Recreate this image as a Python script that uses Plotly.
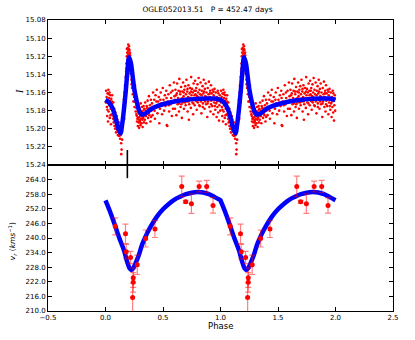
import plotly.graph_objects as go
from plotly.subplots import make_subplots

# folded OGLE light curve, one cycle (phase, I mag)
lc_phase = [
    0.005, 0.010, 0.012, 0.015, 0.018, 0.020, 0.022, 0.025, 0.027, 0.030, 0.032, 0.035, 0.037, 0.040,
    0.042, 0.045, 0.047, 0.050, 0.053, 0.055, 0.058, 0.060,
    0.063, 0.066, 0.068, 0.071, 0.073, 0.076, 0.078, 0.081, 0.083, 0.086, 0.088, 0.091, 0.093, 0.096,
    0.098, 0.101, 0.104, 0.107, 0.110, 0.112, 0.115, 0.118, 0.121, 0.124, 0.127, 0.130, 0.133, 0.136,
    0.140, 0.137, 0.145,
    0.148, 0.152, 0.156, 0.160, 0.163, 0.166, 0.170, 0.173, 0.176, 0.179,
    0.182, 0.185, 0.187, 0.189, 0.191, 0.193, 0.195, 0.196, 0.198, 0.199, 0.201, 0.202, 0.204, 0.205,
    0.207, 0.208, 0.210, 0.212, 0.214, 0.216, 0.218, 0.220, 0.222,
    0.225, 0.228, 0.231, 0.234, 0.237, 0.240, 0.243, 0.246, 0.249, 0.252, 0.256, 0.259, 0.262, 0.266,
    0.269,
    0.272, 0.274, 0.276, 0.279, 0.281, 0.283, 0.286, 0.288, 0.290, 0.292, 0.295, 0.297, 0.299, 0.302,
    0.304, 0.306, 0.309, 0.311, 0.313, 0.316, 0.318, 0.321, 0.323, 0.326, 0.328, 0.331, 0.334, 0.336,
    0.339, 0.342, 0.345, 0.348, 0.351, 0.355, 0.358, 0.362, 0.366, 0.370, 0.374, 0.378, 0.382, 0.386,
    0.391, 0.395, 0.399,
    0.404, 0.409, 0.414, 0.419, 0.424, 0.430, 0.435, 0.440, 0.446, 0.452, 0.457, 0.463, 0.468, 0.474,
    0.480, 0.486, 0.492, 0.498, 0.504, 0.510, 0.516, 0.522, 0.528, 0.533, 0.537, 0.541, 0.547, 0.553,
    0.559, 0.565, 0.571, 0.577, 0.583, 0.589, 0.595,
    0.600, 0.604, 0.608, 0.612, 0.616, 0.620, 0.623, 0.627, 0.631, 0.635, 0.639, 0.642, 0.646, 0.650,
    0.653, 0.657, 0.661, 0.664, 0.668, 0.672, 0.675, 0.679, 0.682, 0.686, 0.689, 0.693, 0.697, 0.700,
    0.704, 0.707, 0.711, 0.714, 0.718, 0.721, 0.725, 0.728, 0.731, 0.735, 0.738, 0.742, 0.745, 0.748,
    0.752, 0.755, 0.759, 0.762, 0.766, 0.769, 0.772, 0.776, 0.779, 0.783, 0.786, 0.789, 0.793, 0.796,
    0.800, 0.803, 0.806, 0.810, 0.813, 0.817, 0.820, 0.823, 0.827, 0.830, 0.834, 0.837, 0.840, 0.844,
    0.847, 0.851, 0.854, 0.857, 0.861, 0.864, 0.868, 0.871, 0.875, 0.878, 0.882, 0.885, 0.889, 0.892,
    0.896, 0.899, 0.903, 0.906, 0.910, 0.913, 0.917, 0.920, 0.924, 0.927, 0.931, 0.934, 0.938, 0.941,
    0.945, 0.948,
    0.952, 0.955, 0.959, 0.962, 0.966, 0.969, 0.973, 0.976, 0.980, 0.983, 0.987, 0.990, 0.994, 0.997,
    # denser core close to the curve
    0.003, 0.017, 0.028, 0.044, 0.057, 0.069, 0.079, 0.092, 0.103, 0.114, 0.123, 0.131, 0.142, 0.151,
    0.158, 0.167, 0.181, 0.186, 0.192, 0.197, 0.203, 0.209, 0.213, 0.219, 0.227, 0.238, 0.247, 0.258,
    0.268, 0.277, 0.284, 0.293, 0.301, 0.308, 0.317, 0.324, 0.333, 0.341, 0.352, 0.363, 0.373, 0.384,
    0.397, 0.411, 0.427, 0.443, 0.461, 0.477, 0.495, 0.513, 0.531, 0.551, 0.569, 0.587, 0.603, 0.614,
    0.625, 0.637, 0.648, 0.659, 0.670, 0.681, 0.692, 0.702, 0.713, 0.724, 0.733, 0.744, 0.754, 0.764,
    0.774, 0.785, 0.795, 0.805, 0.815, 0.825, 0.836, 0.846, 0.856, 0.866, 0.876, 0.887, 0.897, 0.908,
    0.918, 0.929, 0.939, 0.950, 0.961, 0.971, 0.982, 0.992,
]
lc_mag = [
    15.158, 15.165, 15.176, 15.186, 15.161, 15.170, 15.192, 15.157, 15.181, 15.166, 15.174, 15.160, 15.188, 15.169,
    15.163, 15.178, 15.195, 15.167, 15.172, 15.184, 15.163, 15.176,
    15.180, 15.189, 15.171, 15.193, 15.183, 15.178, 15.197, 15.188, 15.200, 15.182, 15.193, 15.204, 15.190, 15.198,
    15.186, 15.201, 15.195, 15.207, 15.199, 15.203, 15.193, 15.208, 15.201, 15.205, 15.211, 15.199, 15.206, 15.216,
    15.223, 15.228, 15.212,
    15.196, 15.185, 15.177, 15.168, 15.189, 15.160, 15.152, 15.171, 15.143, 15.137,
    15.128, 15.120, 15.132, 15.116, 15.124, 15.111, 15.119, 15.127, 15.107, 15.114, 15.122, 15.130, 15.109, 15.117,
    15.125, 15.113, 15.121, 15.134, 15.119, 15.128, 15.139, 15.125, 15.133,
    15.146, 15.138, 15.155, 15.149, 15.162, 15.143, 15.170, 15.158, 15.165, 15.176, 15.152, 15.170, 15.181, 15.165,
    15.177,
    15.186, 15.192, 15.174, 15.181, 15.197, 15.188, 15.177, 15.193, 15.183, 15.199, 15.187, 15.178, 15.191, 15.184,
    15.196, 15.172, 15.189, 15.181, 15.194, 15.185, 15.176, 15.190, 15.198, 15.182, 15.188, 15.175, 15.193, 15.184,
    15.178, 15.190, 15.171, 15.186, 15.180, 15.194, 15.175, 15.183, 15.169, 15.188, 15.178, 15.164, 15.185, 15.174,
    15.192, 15.168, 15.180,
    15.172, 15.185, 15.160, 15.177, 15.168, 15.189, 15.163, 15.176, 15.157, 15.183, 15.170, 15.165, 15.194, 15.178,
    15.160, 15.172, 15.184, 15.155, 15.168, 15.180, 15.163, 15.175, 15.158, 15.196, 15.197, 15.170, 15.162, 15.181,
    15.152, 15.173, 15.166, 15.186, 15.158, 15.171, 15.149,
    15.164, 15.178, 15.157, 15.170, 15.185, 15.161, 15.150, 15.173, 15.166, 15.158, 15.181, 15.145, 15.169, 15.162,
    15.176, 15.154, 15.167, 15.188, 15.159, 15.171, 15.149, 15.164, 15.178, 15.157, 15.168, 15.153, 15.174, 15.162,
    15.146, 15.170, 15.159, 15.181, 15.165, 15.152, 15.190, 15.173, 15.161, 15.155, 15.168, 15.177, 15.143, 15.163,
    15.156, 15.171, 15.160, 15.184, 15.150, 15.166, 15.158, 15.174, 15.147, 15.162, 15.169, 15.155, 15.179, 15.164,
    15.151, 15.171, 15.160, 15.144, 15.167, 15.157, 15.175, 15.162, 15.149, 15.170, 15.183, 15.158, 15.166, 15.153,
    15.172, 15.161, 15.146, 15.168, 15.178, 15.156, 15.164, 15.150, 15.173, 15.160, 15.167, 15.187, 15.155, 15.170,
    15.162, 15.148, 15.176, 15.165, 15.158, 15.181, 15.152, 15.169, 15.161, 15.175, 15.157, 15.166, 15.184, 15.163,
    15.171, 15.156,
    15.168, 15.179, 15.160, 15.172, 15.187, 15.165, 15.176, 15.158, 15.182, 15.169, 15.191, 15.174, 15.163, 15.180,
    # denser core close to the curve
    15.171, 15.179, 15.162, 15.185, 15.170, 15.186, 15.191, 15.196, 15.190, 15.203, 15.197, 15.207, 15.203, 15.190,
    15.182, 15.166, 15.134, 15.112, 15.129, 15.121, 15.112, 15.129, 15.116, 15.131, 15.151, 15.154, 15.170, 15.163,
    15.184, 15.189, 15.181, 15.190, 15.193, 15.185, 15.181, 15.187, 15.179, 15.185, 15.186, 15.177, 15.183, 15.178,
    15.187, 15.176, 15.180, 15.170, 15.176, 15.168, 15.174, 15.171, 15.166, 15.174, 15.160, 15.178, 15.168, 15.163,
    15.169, 15.172, 15.159, 15.173, 15.166, 15.160, 15.171, 15.167, 15.156, 15.170, 15.166, 15.159, 15.167, 15.172,
    15.163, 15.158, 15.170, 15.165, 15.174, 15.168, 15.163, 15.176, 15.159, 15.170, 15.165, 15.172, 15.166, 15.161,
    15.173, 15.168, 15.159, 15.175, 15.166, 15.170, 15.161, 15.167,
]

# fitted light-curve model, one cycle
lc_model_phase = [0.00, 0.03, 0.06, 0.09, 0.11, 0.13, 0.145, 0.16, 0.175, 0.19, 0.205, 0.22, 0.235, 0.25,
                  0.27, 0.29, 0.31, 0.33, 0.36, 0.40, 0.45, 0.50, 0.60, 0.70, 0.80, 0.90, 0.95, 1.00]
lc_model_mag = [15.168, 15.171, 15.177, 15.189, 15.199, 15.205, 15.195, 15.179, 15.160, 15.138, 15.121,
                15.127, 15.141, 15.156, 15.169, 15.179, 15.184, 15.184, 15.182, 15.178, 15.175, 15.173,
                15.170, 15.168, 15.167, 15.1665, 15.1667, 15.168]

# radial velocities
rv_phase = [0.085, 0.174, 0.180, 0.218, 0.241, 0.241, 0.236, 0.276, 0.349, 0.430,
            0.663, 0.697, 0.747, 0.814, 0.880, 0.935]
rv_vel = [244.8, 241.7, 234.4, 232.0, 223.7, 221.8, 215.5, 229.0, 239.8, 243.7,
          261.2, 254.9, 254.1, 261.2, 261.2, 253.4]
rv_err = [3.5, 4.0, 3.0, 2.5, 4.0, 4.0, 6.0, 4.0, 3.5, 3.5,
          4.2, 0.6, 4.0, 2.2, 2.5, 3.2]

rv_model_phase = [0.00, 0.04, 0.08, 0.12, 0.16, 0.19, 0.21, 0.225, 0.24, 0.26, 0.29, 0.32, 0.36,
                  0.40, 0.45, 0.50, 0.55, 0.60, 0.65, 0.70, 0.75, 0.80, 0.85, 0.90, 0.95, 1.00]
rv_model_vel = [255.5, 250.8, 245.5, 240.0, 235.0, 230.0, 227.5, 226.9, 227.5, 229.5, 233.0, 237.5,
                241.8, 245.3, 249.0, 251.8, 254.0, 255.8, 257.0, 258.0, 258.6, 258.9, 258.7, 258.0,
                256.8, 255.5]

marker_phase = 0.19
marker_mag = [15.2235, 15.24]
marker_vel = [264.6, 270.0]

x_ticks = [-0.5, 0.0, 0.5, 1.0, 1.5, 2.0, 2.5]
x_labels = ["\u22120.5", "0.0", "0.5", "1.0", "1.5", "2.0", "2.5"]
mag_ticks = [15.08, 15.10, 15.12, 15.14, 15.16, 15.18, 15.20, 15.22, 15.24]
mag_labels = ["15.08", "15.10", "15.12", "15.14", "15.16", "15.18", "15.20", "15.22", "15.24"]
vel_ticks = [210, 216, 222, 228, 234, 240, 246, 252, 258, 264]
vel_labels = ["210.0", "216.0", "222.0", "228.0", "234.0", "240.0", "246.0", "252.0", "258.0", "264.0"]


def two_cycles(ph, val):
    return ph + [p + 1 for p in ph], val + val


fig = make_subplots(rows=2, cols=1, shared_xaxes=True, vertical_spacing=0)

x, y = two_cycles(lc_phase, lc_mag)
fig.add_trace(go.Scatter(x=x, y=y, mode="markers", marker=dict(color="#ff0000", size=2.6),
                         showlegend=False), row=1, col=1)
x, y = two_cycles(lc_model_phase, lc_model_mag)
fig.add_trace(go.Scatter(x=x, y=y, mode="lines", line=dict(color="#0000ff", width=4.5, shape="spline"),
                         showlegend=False), row=1, col=1)
fig.add_trace(go.Scatter(x=[marker_phase] * 2, y=marker_mag, mode="lines",
                         line=dict(color="black", width=1.6), showlegend=False), row=1, col=1)

x, y = two_cycles(rv_model_phase, rv_model_vel)
fig.add_trace(go.Scatter(x=x, y=y, mode="lines", line=dict(color="#0000ff", width=4.5, shape="spline"),
                         showlegend=False), row=2, col=1)
x, y = two_cycles(rv_phase, rv_vel)
fig.add_trace(go.Scatter(x=x, y=y, mode="markers", marker=dict(color="#ff0000", size=5),
                         error_y=dict(type="data", array=rv_err + rv_err, color="rgba(255,0,0,0.5)",
                                      thickness=1.2, width=3),
                         showlegend=False), row=2, col=1)
fig.add_trace(go.Scatter(x=[marker_phase] * 2, y=marker_vel, mode="lines",
                         line=dict(color="black", width=1.6), showlegend=False), row=2, col=1)

axis_style = dict(showgrid=False, zeroline=False, showline=True, linecolor="black", linewidth=1,
                  mirror="ticks", ticks="inside", ticklen=4, tickcolor="black", automargin=False,
                  tickfont=dict(family="DejaVu Sans", size=7, color="black"))

fig.update_xaxes(range=[-0.5, 2.5], tickvals=x_ticks, ticktext=x_labels, **axis_style)
fig.update_xaxes(showticklabels=False, row=1, col=1)
fig.update_yaxes(range=[15.24, 15.08], tickvals=mag_ticks, ticktext=mag_labels, domain=[0.5017, 1],
                 row=1, col=1, **axis_style)
fig.update_yaxes(range=[210, 270], tickvals=vel_ticks, ticktext=vel_labels, domain=[0, 0.5017],
                 row=2, col=1, **axis_style)

fig.update_layout(
    width=415, height=340,
    margin=dict(l=48, r=22, t=20, b=29),
    plot_bgcolor="white", paper_bgcolor="white",
    font=dict(family="DejaVu Sans", color="black"),
    title=dict(text="OGLE052013.51\u00a0\u00a0\u00a0P = 452.47 days", x=0.5, xref="container",
               y=0.972, yref="container", xanchor="center", yanchor="middle",
               font=dict(size=7.5, family="DejaVu Sans")),
    annotations=[
        dict(text="<i>I</i>", xref="paper", yref="paper", x=-0.081, y=0.753, showarrow=False,
             xanchor="center", yanchor="middle", textangle=-90,
             font=dict(family="Liberation Serif", size=10)),
        dict(text="<i>v<sub>r</sub></i> (<i>kms</i><sup>\u22121</sup>)", xref="paper", yref="paper",
             x=-0.104, y=0.24, showarrow=False, xanchor="center", yanchor="middle", textangle=-90,
             font=dict(family="DejaVu Sans", size=7.5)),
        dict(text="Phase", xref="paper", yref="paper", x=0.5, y=-0.053, xanchor="center",
             yanchor="middle", showarrow=False, font=dict(family="DejaVu Sans", size=8.5)),
    ],
)

# drop the page's default body margin so the figure sits at the window origin
fig.write_html("out.html", config={"displayModeBar": False},
               post_script="document.body.style.margin='0';")
